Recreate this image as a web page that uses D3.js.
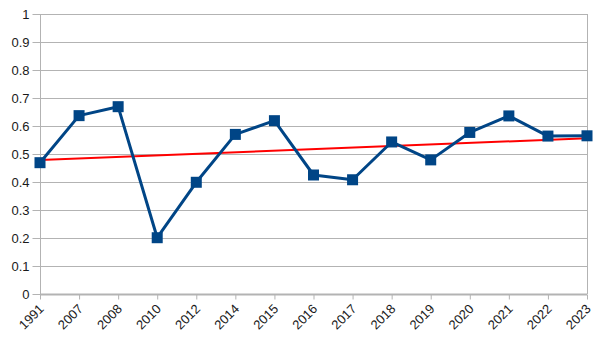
<!DOCTYPE html>
<html>
<head>
<meta charset="utf-8">
<script src="https://cdn.jsdelivr.net/npm/d3@7"></script>
<style>
  body { margin: 0; background: #fff; }
  text { font-family: "Liberation Sans", Arial, sans-serif; font-size: 13px; fill: #1a1a1a; }
</style>
</head>
<body>
<div id="chart"></div>
<script>
// data
var years = ["1991", "2007", "2008", "2010", "2012", "2014", "2015", "2016", "2017", "2018", "2019", "2020", "2021", "2022", "2023"];
var values = [0.469, 0.637, 0.669, 0.201, 0.399, 0.570, 0.619, 0.425, 0.408, 0.543, 0.479, 0.577, 0.636, 0.564, 0.565];
var yTicks = [0, 0.1, 0.2, 0.3, 0.4, 0.5, 0.6, 0.7, 0.8, 0.9, 1];

var margin = {top: 14, right: 19, bottom: 47, left: 40};
var width = 606 - margin.left - margin.right;
var height = 341 - margin.top - margin.bottom;

var svg = d3.select("#chart").append("svg")
    .attr("width", 606)
    .attr("height", 341)
    .append("g")
    .attr("transform", "translate(" + margin.left + "," + margin.top + ")");

// categories sit on the ticks
var xScale = d3.scalePoint()
    .domain(years)
    .range([0, width]);

var yScale = d3.scaleLinear()
    .domain([0, 1])
    .range([height, 0]);

// gridlines
svg.append("g")
    .selectAll("line")
    .data(yTicks)
    .enter().append("line")
    .attr("x1", 0)
    .attr("x2", width)
    .attr("y1", function(d) { return Math.round(yScale(d)) + 0.5; })
    .attr("y2", function(d) { return Math.round(yScale(d)) + 0.5; })
    .attr("stroke", "#b3b3b3")
    .attr("stroke-width", 1);

// wall border right
svg.append("line")
    .attr("x1", width + 0.5).attr("x2", width + 0.5)
    .attr("y1", 0).attr("y2", height)
    .attr("stroke", "#b3b3b3");

// y axis
var yAxis = d3.axisLeft(yScale)
    .tickValues(yTicks)
    .tickSize(8)
    .tickPadding(3)
    .tickFormat(d3.format("~g"));
var yAxisGroup = svg.append("g")
    .attr("transform", "translate(0.5,0)")
    .call(yAxis);
yAxisGroup.select(".domain").attr("stroke", "#b3b3b3").attr("d", "M0," + height + "V0");
yAxisGroup.selectAll(".tick line").attr("stroke", "#b3b3b3");
yAxisGroup.selectAll("text").style("font-size", "13px").attr("fill", "#1a1a1a");

// x axis
var xAxis = d3.axisBottom(xScale)
    .tickSize(5)
    .tickPadding(4);
var xAxisGroup = svg.append("g")
    .attr("transform", "translate(0," + (Math.round(height) + 0.5) + ")")
    .call(xAxis);
xAxisGroup.select(".domain")
    .attr("stroke", "#b3b3b3")
    .attr("stroke-width", 2)
    .attr("d", "M0,0H" + width);
xAxisGroup.selectAll(".tick line").attr("stroke", "#b3b3b3");
xAxisGroup.selectAll("text")
    .style("text-anchor", "end")
    .style("font-size", "13px")
    .attr("fill", "#1a1a1a")
    .attr("x", 0)
    .attr("y", 0)
    .attr("dy", "0.35em")
    .attr("transform", "translate(1,12) rotate(-45)");

// trend line (linear regression over category index)
var n = values.length;
var meanX = (n - 1) / 2;
var meanY = d3.mean(values);
var sxy = d3.sum(values, function(v, i) { return (i - meanX) * (v - meanY); });
var sxx = d3.sum(values, function(v, i) { return (i - meanX) * (i - meanX); });
var slope = sxy / sxx;
var intercept = meanY - slope * meanX;

svg.append("line")
    .attr("x1", xScale(years[0]))
    .attr("y1", yScale(intercept))
    .attr("x2", xScale(years[n - 1]))
    .attr("y2", yScale(intercept + slope * (n - 1)))
    .attr("stroke", "#ff0000")
    .attr("stroke-width", 2);

// series line
var line = d3.line()
    .x(function(d, i) { return xScale(years[i]); })
    .y(function(d) { return yScale(d); });

svg.append("path")
    .datum(values)
    .attr("d", line)
    .attr("fill", "none")
    .attr("stroke", "#004586")
    .attr("stroke-width", 3)
    .attr("stroke-linejoin", "round");

// square markers
var mSize = 11;
svg.selectAll(".marker")
    .data(values)
    .enter().append("rect")
    .attr("class", "marker")
    .attr("x", function(d, i) { return xScale(years[i]) - mSize / 2; })
    .attr("y", function(d) { return yScale(d) - mSize / 2; })
    .attr("width", mSize)
    .attr("height", mSize)
    .attr("fill", "#004586");
</script>
</body>
</html>
